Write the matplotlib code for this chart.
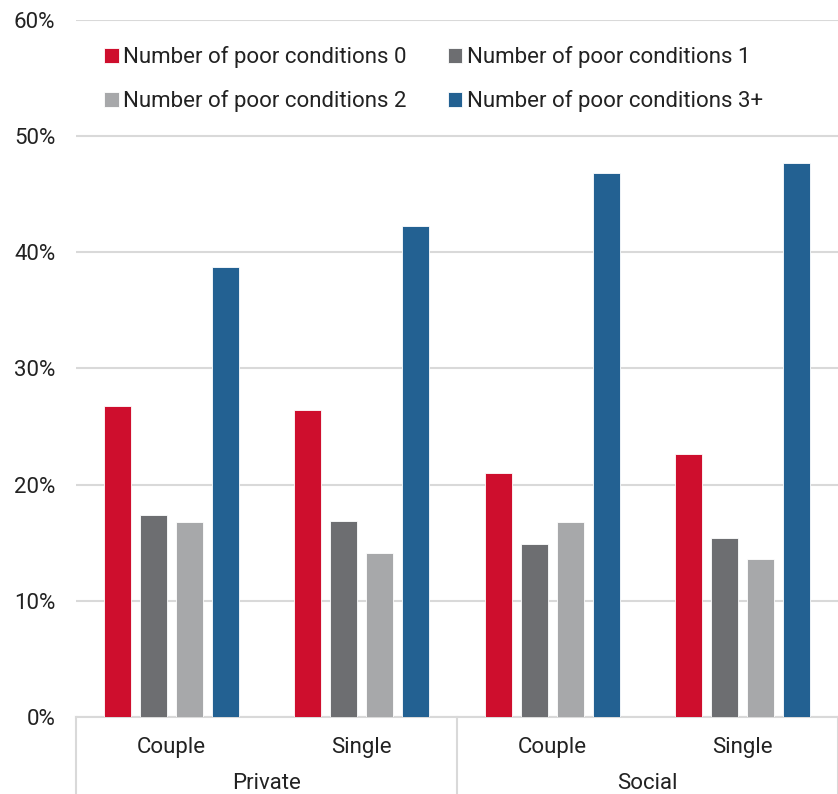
import numpy as np
import matplotlib.pyplot as plt
import matplotlib.transforms as mtransforms

# Data
tenure = ['Private', 'Social']
household = ['Couple', 'Single', 'Couple', 'Single']
series_labels = ['Number of poor conditions 0', 'Number of poor conditions 1',
                 'Number of poor conditions 2', 'Number of poor conditions 3+']
cond_0 = [26.8, 26.4, 21.0, 22.6]
cond_1 = [17.4, 16.9, 14.9, 15.4]
cond_2 = [16.8, 14.1, 16.8, 13.6]
cond_3plus = [38.7, 42.3, 46.8, 47.7]

colors = ['#CE0E2D', '#6D6E71', '#A7A8AA', '#236192']

plt.rcParams['font.family'] = ['Roboto', 'DejaVu Sans']
fs = 16

fig = plt.figure(figsize=(8.38, 7.94), dpi=100)
ax = fig.add_axes([0.091, 0.097, 0.909, 0.878])

x = np.arange(len(household))
step = 0.189
width = 0.142
for i, (vals, lab, col) in enumerate(zip([cond_0, cond_1, cond_2, cond_3plus], series_labels, colors)):
    ax.bar(x + (i - 1.5) * step, vals, width, color=col, label=lab,
           edgecolor='white', linewidth=0.6, zorder=3)

ax.set_xlim(-0.5, 3.5)
ax.set_ylim(0, 60)
ax.set_yticks(range(0, 61, 10))
ax.set_yticklabels([f'{v}%' for v in range(0, 61, 10)], fontsize=fs, color='#222222')
ax.yaxis.grid(True, color='#d9d9d9', linewidth=1.5, zorder=0)
ax.tick_params(axis='y', length=0, pad=15)
ax.set_xticks([])
for s in ['top', 'right', 'left']:
    ax.spines[s].set_visible(False)
ax.spines['bottom'].set_color('#d9d9d9')
ax.spines['bottom'].set_linewidth(1.5)

# Two-level category axis
trans = mtransforms.blended_transform_factory(ax.transData, ax.transAxes)
for xi, name in zip(x, household):
    ax.text(xi, -0.044, name, transform=trans, ha='center', va='center',
            fontsize=fs, color='#222222')
for gi, name in enumerate(tenure):
    ax.text(gi * 2 + 0.5, -0.095, name, transform=trans, ha='center', va='center',
            fontsize=fs, color='#222222')
for xs in [-0.5, 1.5, 3.5]:
    ax.plot([xs, xs], [0, -0.12], transform=trans, color='#d9d9d9',
            linewidth=1.5, clip_on=False)

# legend filled row by row: 0, 1 / 2, 3+
handles, labels = ax.get_legend_handles_labels()
order = [0, 2, 1, 3]
leg = ax.legend([handles[k] for k in order], [labels[k] for k in order],
                loc='upper left', bbox_to_anchor=(0.025, 0.975), ncol=2, frameon=False,
                fontsize=fs, handlelength=0.65, handleheight=0.65, handletextpad=0.2,
                columnspacing=1.85, labelspacing=1.0, borderaxespad=0)
for t in leg.get_texts():
    t.set_color('#222222')

fig.savefig('out.png', dpi=100)
